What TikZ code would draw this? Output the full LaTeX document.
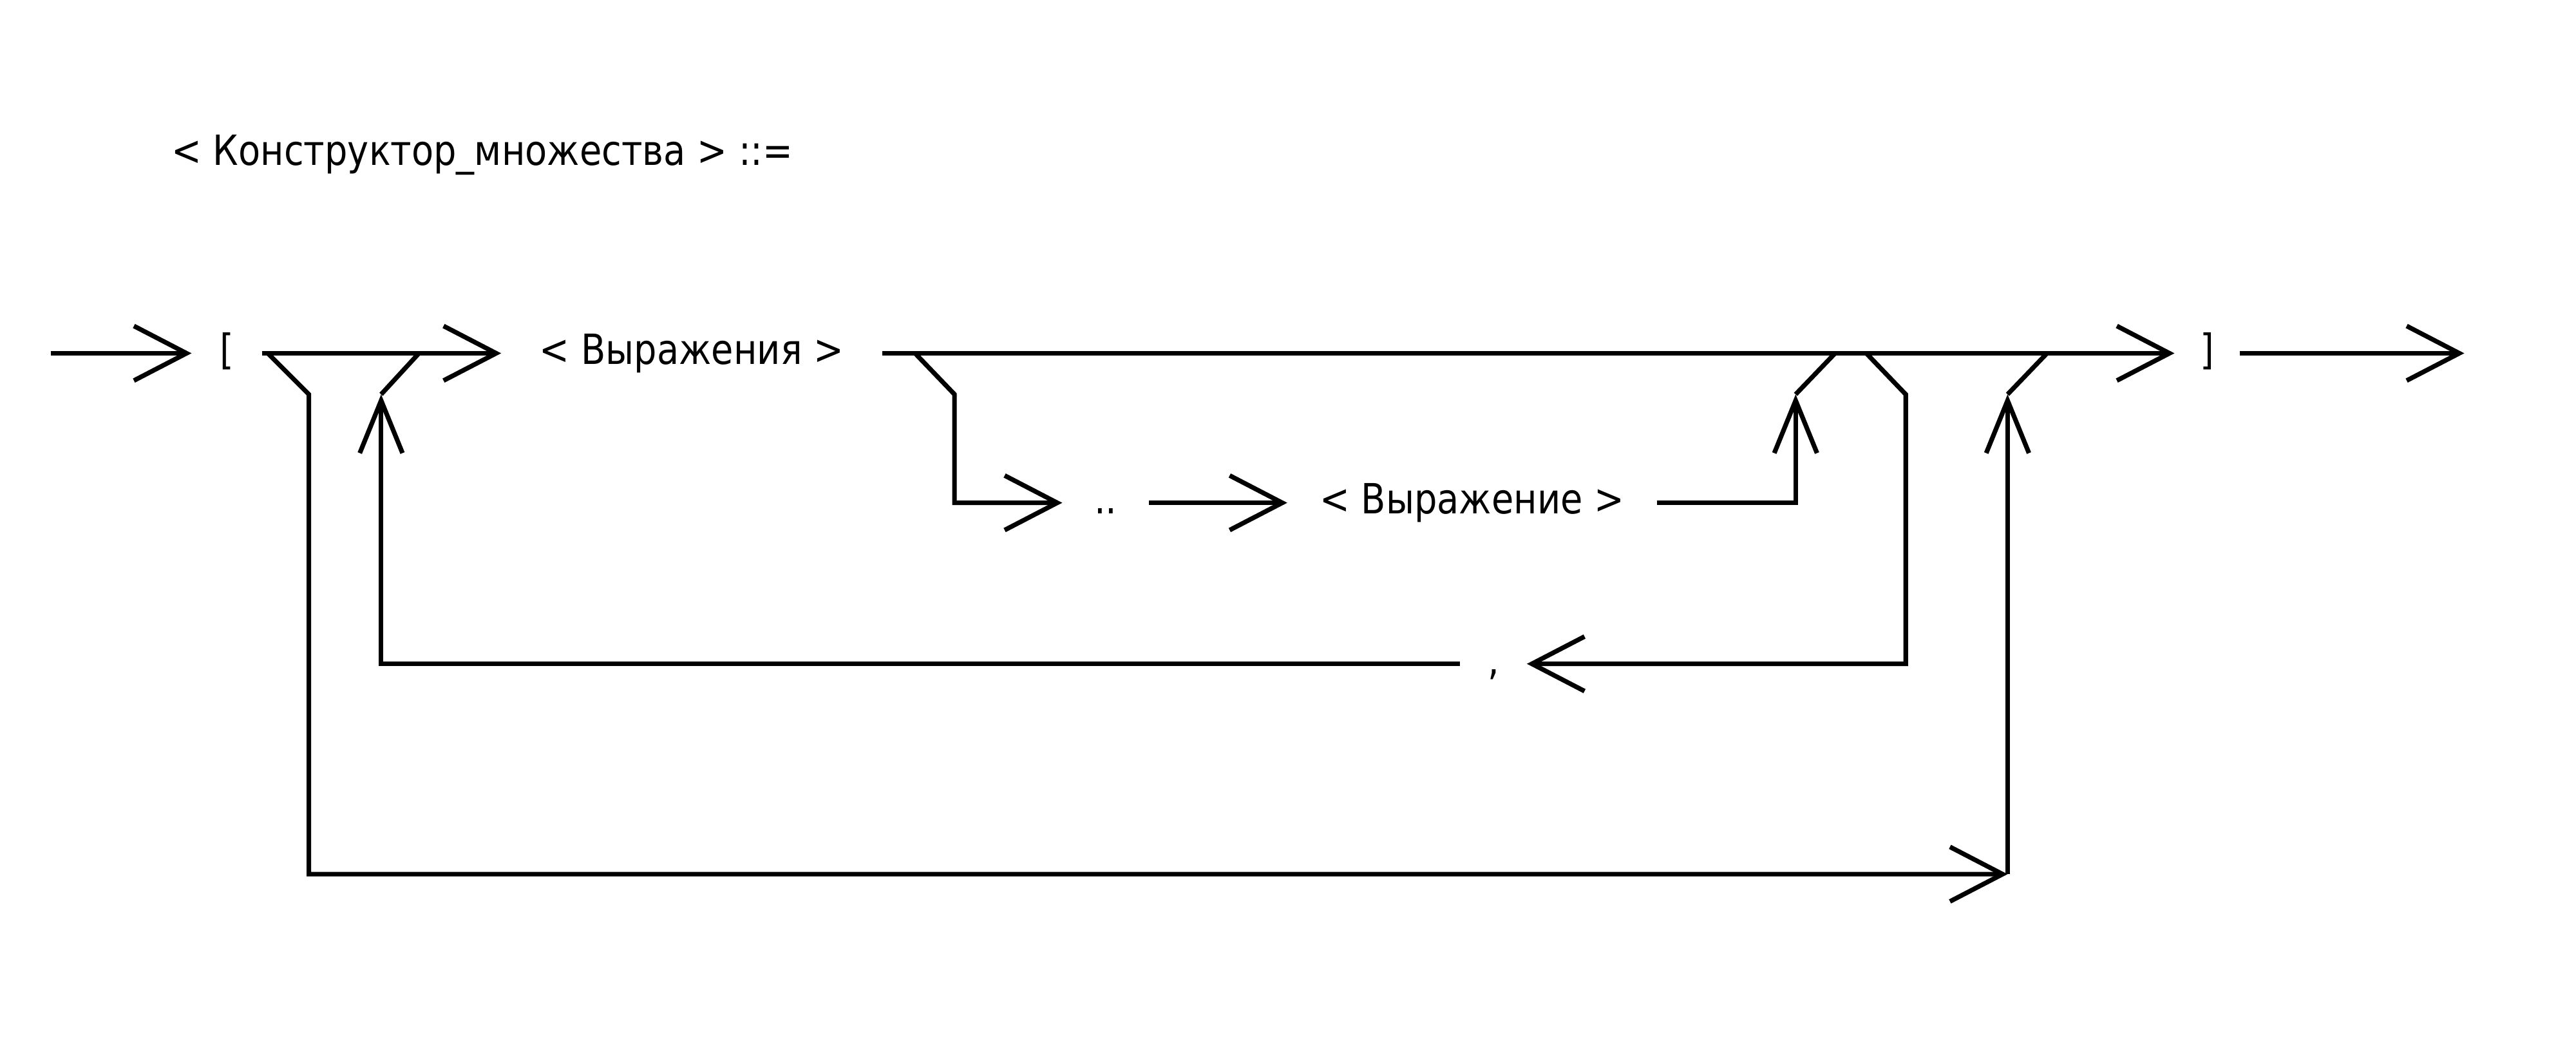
\documentclass[tikz,border=0pt]{standalone}
\usepackage{fontspec}
\setmainfont{DejaVu Sans}[FakeStretch=0.865]
\usetikzlibrary{arrows.meta}
\begin{document}
\begin{tikzpicture}[x=0.025cm,y=-0.025cm,
  line width=2pt,
  harr/.style={-{Straight Barb[length=0.8cm,width=0.83cm]}},
  varr/.style={-{Straight Barb[length=0.8cm,width=0.65cm]}},
  lbl/.style={font=\fontsize{18}{20}\selectfont, inner xsep=0pt, inner ysep=0pt,
              text height=12pt, text depth=2.6pt},
]
\useasboundingbox[fill=white] (0,0) rectangle (1568,643);

% title
\node[font=\fontsize{18}{20}\selectfont, anchor=base west, inner sep=0pt] (title)
  at (103,100.6) {< Конструктор\_множества > ::=};

% labels
\node[lbl, minimum width=1cm]     (lb) at (138,215)    {[};
\node[lbl, minimum width=5.725cm] (e1) at (421,215)    {< Выражения >};
\node[lbl, minimum width=0.925cm] (rb) at (1343.5,215) {]};
\node[lbl, minimum width=1.25cm]  (dd) at (673,306)    {..};
\node[lbl, minimum width=5.55cm]  (e2) at (896,306)    {< Выражение >};
\node[lbl, minimum width=0.95cm]  (cm) at (909,404)    {,};

% junctions and free ends
\coordinate (in)  at (31,215);
\coordinate (out) at (1500,215);
\coordinate (j1) at (163,215);
\coordinate (j2) at (255,215);
\coordinate (j3) at (557,215);
\coordinate (j4) at (1117,215);
\coordinate (j5) at (1136,215);
\coordinate (j6) at (1246,215);
\coordinate (u2) at (232,240);
\coordinate (u4) at (1093,240);
\coordinate (u6) at (1222,240);
\coordinate (b6) at (1222,532);

% main line
\draw[harr] (in) -- (lb.west);
\draw[harr] (lb.east) -- (e1.west);
\draw[harr] (e1.east) -- (rb.west);
\draw[harr] (rb.east) -- (out);

% skip branch
\draw[harr] (j1) -- (188,240) -- (188,532) -- (b6);
\draw[varr] (b6) -- (u6);
\draw (u6) -- (j6);

% repetition loop
\draw[harr] (j5) -- (1160,240) -- (1160,404) -- (cm.east);
\draw[varr] (cm.west) -- (232,404) -- (u2);
\draw (u2) -- (j2);

% range branch
\draw[harr] (j3) -- (581,240) -- (581,306) -- (dd.west);
\draw[harr] (dd.east) -- (e2.west);
\draw[varr] (e2.east) -- (1093,306) -- (u4);
\draw (u4) -- (j4);
\end{tikzpicture}
\end{document}
